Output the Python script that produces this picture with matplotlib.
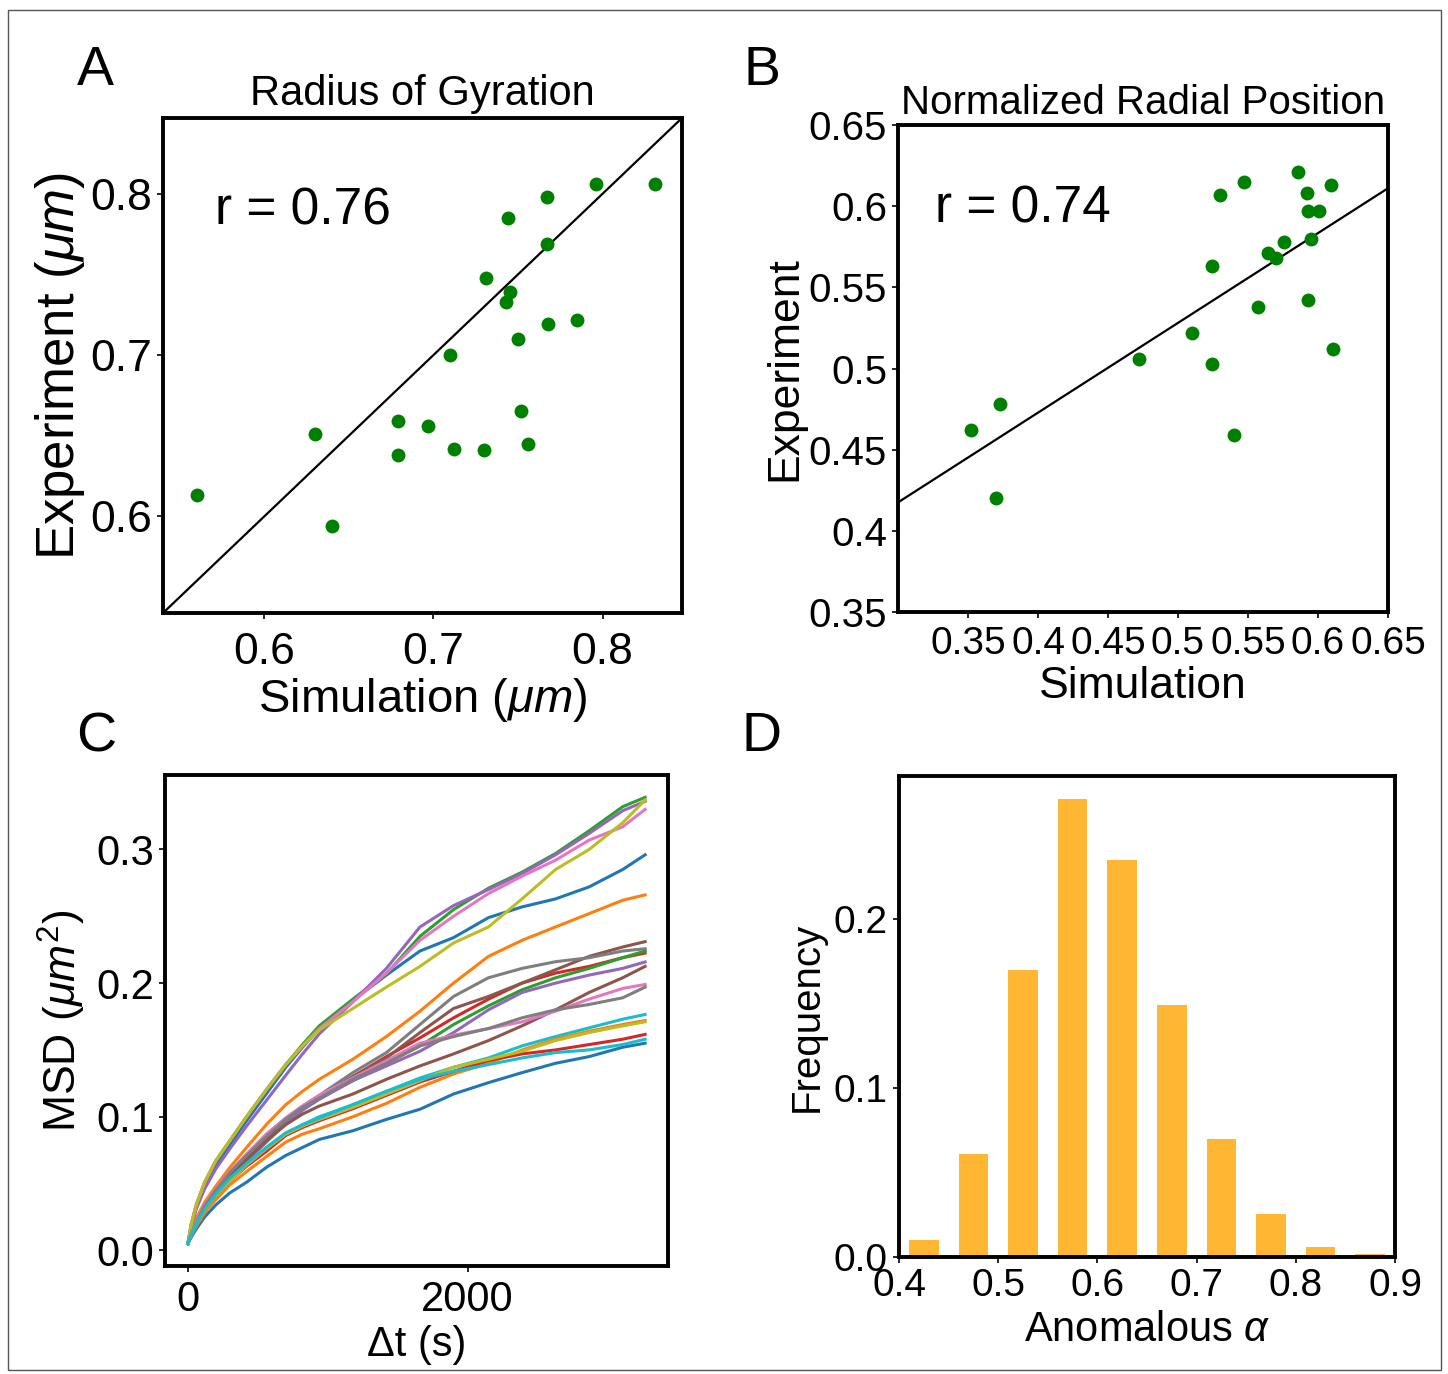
"""
Four-panel figure: simulation vs experiment comparisons (A, B),
MSD curves (C) and a histogram of anomalous exponents (D).
"""
import matplotlib
matplotlib.use("Agg")
import matplotlib.pyplot as plt
from matplotlib.patches import Rectangle
from matplotlib.ticker import FormatStrFormatter

plt.rcParams['font.family'] = ['Liberation Sans', 'DejaVu Sans']
plt.rcParams['mathtext.fontset'] = 'custom'
plt.rcParams['mathtext.rm'] = 'Liberation Sans'
plt.rcParams['mathtext.it'] = 'Liberation Sans:italic'

# --- Panel A: radius of gyration (um) ---
rg_sim = [0.560, 0.630, 0.640, 0.679, 0.679, 0.697, 0.710, 0.712, 0.730, 0.731, 0.744,
          0.745, 0.743, 0.750, 0.752, 0.756, 0.767, 0.767, 0.768, 0.785, 0.796, 0.831]
rg_exp = [0.613, 0.651, 0.594, 0.659, 0.638, 0.656, 0.700, 0.642, 0.641, 0.748, 0.785,
          0.739, 0.733, 0.710, 0.665, 0.645, 0.798, 0.769, 0.719, 0.722, 0.806, 0.806]
rg_r = 0.76

# --- Panel B: normalized radial position ---
rad_sim = [0.352, 0.373, 0.370, 0.472, 0.510, 0.524, 0.524, 0.530, 0.547, 0.540, 0.557,
           0.564, 0.570, 0.576, 0.586, 0.592, 0.593, 0.601, 0.595, 0.593, 0.609, 0.611]
rad_exp = [0.462, 0.478, 0.420, 0.506, 0.522, 0.503, 0.563, 0.607, 0.615, 0.459, 0.538,
           0.571, 0.568, 0.578, 0.621, 0.608, 0.597, 0.597, 0.580, 0.542, 0.613, 0.512]
rad_fit = (0.553, 0.2516)  # slope, intercept
rad_r = 0.74

# --- Panel C: MSD curves (um^2) vs lag time (s) ---
lag_t = [0, 25, 60, 120, 200, 300, 420, 560, 700, 820, 940, 1180, 1420, 1660,
         1900, 2150, 2390, 2630, 2870, 3110, 3270]
msd_curves = [
    # blue
    [0.005, 0.019, 0.032, 0.049, 0.064, 0.079, 0.097, 0.117, 0.137, 0.152, 0.166,
     0.187, 0.206, 0.224, 0.234, 0.249, 0.257, 0.263, 0.272, 0.285, 0.296],
    # orange
    [0.005, 0.014, 0.024, 0.036, 0.048, 0.062, 0.077, 0.094, 0.109, 0.119, 0.128,
     0.143, 0.160, 0.179, 0.200, 0.220, 0.232, 0.242, 0.252, 0.262, 0.266],
    # green
    [0.005, 0.020, 0.034, 0.051, 0.067, 0.082, 0.100, 0.120, 0.139, 0.154, 0.168,
     0.188, 0.207, 0.235, 0.255, 0.271, 0.283, 0.297, 0.314, 0.332, 0.339],
    # red
    [0.005, 0.012, 0.021, 0.032, 0.043, 0.055, 0.068, 0.083, 0.097, 0.107, 0.115,
     0.130, 0.145, 0.159, 0.174, 0.188, 0.200, 0.2075, 0.2125, 0.219, 0.2225],
    # purple
    [0.005, 0.018, 0.031, 0.046, 0.061, 0.076, 0.093, 0.112, 0.131, 0.147, 0.162,
     0.186, 0.211, 0.242, 0.258, 0.270, 0.282, 0.296, 0.312, 0.329, 0.336],
    # brown
    [0.005, 0.012, 0.021, 0.033, 0.045, 0.057, 0.070, 0.085, 0.098, 0.107, 0.114,
     0.130, 0.144, 0.163, 0.181, 0.190, 0.200, 0.210, 0.220, 0.227, 0.231],
    # pink
    [0.005, 0.020, 0.034, 0.051, 0.067, 0.082, 0.100, 0.120, 0.139, 0.153, 0.166,
     0.186, 0.2075, 0.232, 0.250, 0.267, 0.280, 0.292, 0.307, 0.317, 0.330],
    # gray
    [0.005, 0.012, 0.021, 0.033, 0.045, 0.058, 0.071, 0.086, 0.099, 0.108, 0.116,
     0.133, 0.148, 0.169, 0.190, 0.204, 0.211, 0.216, 0.219, 0.224, 0.2257],
    # olive
    [0.005, 0.020, 0.034, 0.051, 0.067, 0.082, 0.100, 0.120, 0.139, 0.153, 0.165,
     0.181, 0.197, 0.2125, 0.230, 0.242, 0.263, 0.285, 0.300, 0.320, 0.337],
    # cyan
    [0.005, 0.012, 0.020, 0.031, 0.042, 0.053, 0.064, 0.076, 0.087, 0.094, 0.100,
     0.109, 0.119, 0.129, 0.137, 0.144, 0.153, 0.160, 0.1665, 0.173, 0.1765],
    # blue
    [0.005, 0.010, 0.016, 0.025, 0.034, 0.043, 0.051, 0.062, 0.071, 0.077, 0.083,
     0.0895, 0.098, 0.1056, 0.117, 0.1255, 0.133, 0.140, 0.145, 0.152, 0.155],
    # orange
    [0.005, 0.011, 0.018, 0.028, 0.038, 0.049, 0.059, 0.070, 0.081, 0.087, 0.091,
     0.100, 0.110, 0.122, 0.132, 0.140, 0.150, 0.158, 0.164, 0.169, 0.172],
    # green
    [0.005, 0.012, 0.020, 0.031, 0.043, 0.055, 0.067, 0.081, 0.095, 0.105, 0.114,
     0.127, 0.140, 0.153, 0.169, 0.183, 0.195, 0.204, 0.211, 0.219, 0.224],
    # red
    [0.005, 0.012, 0.020, 0.030, 0.041, 0.052, 0.063, 0.074, 0.086, 0.092, 0.097,
     0.106, 0.116, 0.126, 0.134, 0.142, 0.147, 0.150, 0.154, 0.158, 0.1616],
    # purple
    [0.005, 0.012, 0.020, 0.031, 0.043, 0.055, 0.067, 0.081, 0.095, 0.105, 0.113,
     0.127, 0.138, 0.149, 0.163, 0.180, 0.193, 0.200, 0.206, 0.211, 0.2158],
    # brown
    [0.005, 0.012, 0.020, 0.031, 0.043, 0.056, 0.068, 0.082, 0.094, 0.102, 0.108,
     0.117, 0.128, 0.138, 0.147, 0.157, 0.168, 0.180, 0.193, 0.204, 0.2125],
    # pink
    [0.005, 0.013, 0.022, 0.034, 0.046, 0.059, 0.072, 0.087, 0.099, 0.108, 0.116,
     0.129, 0.142, 0.155, 0.161, 0.166, 0.171, 0.179, 0.188, 0.196, 0.199],
    # gray
    [0.005, 0.012, 0.021, 0.033, 0.045, 0.058, 0.071, 0.085, 0.098, 0.107, 0.114,
     0.128, 0.140, 0.153, 0.160, 0.166, 0.174, 0.180, 0.184, 0.189, 0.197],
    # olive
    [0.005, 0.012, 0.020, 0.030, 0.041, 0.052, 0.064, 0.076, 0.087, 0.093, 0.098,
     0.107, 0.117, 0.127, 0.137, 0.143, 0.149, 0.157, 0.163, 0.168, 0.171],
    # cyan
    [0.005, 0.012, 0.020, 0.031, 0.042, 0.054, 0.065, 0.077, 0.088, 0.094, 0.099,
     0.109, 0.119, 0.128, 0.134, 0.139, 0.144, 0.148, 0.150, 0.154, 0.158],
]

# --- Panel D: histogram of anomalous exponent ---
alpha_edges = [0.40, 0.45, 0.50, 0.55, 0.60, 0.65, 0.70, 0.75, 0.80, 0.85, 0.90]
alpha_freq = [0.0103, 0.0609, 0.1698, 0.2710, 0.2351, 0.1489, 0.0700, 0.0256, 0.0057, 0.0015]

W, H = 1448, 1374


def px_rect(left, top, right, bottom):
    """Axes rectangle in figure fraction from pixel box."""
    return [left / W, 1 - bottom / H, (right - left) / W, (bottom - top) / H]


def style_axes(ax, tick_size):
    for sp in ax.spines.values():
        sp.set_linewidth(2.8)
    ax.tick_params(direction='out', length=4, width=1.2, labelsize=tick_size, pad=4)


fig = plt.figure(figsize=(W / 100, H / 100), dpi=100)

# A
axA = fig.add_axes(px_rect(163, 118, 682, 613))
lims = (0.54, 0.847)
axA.plot(lims, lims, color='black', lw=1.6, zorder=1)
axA.scatter(rg_sim, rg_exp, s=100, color='green', linewidths=0, zorder=2)
axA.set_xlim(lims)
axA.set_ylim(lims)
axA.set_xticks([0.6, 0.7, 0.8])
axA.set_yticks([0.6, 0.7, 0.8])
style_axes(axA, 32)
axA.tick_params(axis='x', pad=10)
axA.set_title("Radius of Gyration", fontsize=30, pad=9)
axA.set_xlabel(r"Simulation ($\mu m$)", fontsize=34, labelpad=2)
axA.set_ylabel(r"Experiment ($\mu m$)", fontsize=38, labelpad=2)
axA.text(0.10, 0.784, f"r = {rg_r:.2f}", transform=axA.transAxes, fontsize=37)

# B
axB = fig.add_axes(px_rect(898, 125, 1388, 612))
xl = (0.30, 0.65)
axB.plot(xl, [rad_fit[0] * v + rad_fit[1] for v in xl], color='black', lw=1.6, zorder=1)
axB.scatter(rad_sim, rad_exp, s=100, color='green', linewidths=0, zorder=2)
axB.set_xlim(xl)
axB.set_ylim(0.35, 0.65)
axB.set_xticks([0.35, 0.40, 0.45, 0.50, 0.55, 0.60, 0.65])
axB.set_yticks([0.35, 0.40, 0.45, 0.50, 0.55, 0.60, 0.65])
axB.xaxis.set_major_formatter(FormatStrFormatter('%g'))
axB.yaxis.set_major_formatter(FormatStrFormatter('%g'))
style_axes(axB, 29)
axB.tick_params(axis='x', labelsize=28, pad=6)
axB.set_title("Normalized Radial Position", fontsize=29, pad=8)
axB.set_xlabel("Simulation", fontsize=32, labelpad=3)
axB.set_ylabel("Experiment", fontsize=32, labelpad=2)
axB.text(0.0755, 0.80, f"r = {rad_r:.2f}", transform=axB.transAxes, fontsize=37)

# C
axC = fig.add_axes(px_rect(165, 775, 668, 1266))
for curve in msd_curves:
    axC.plot(lag_t, curve, lw=2.2)
axC.set_xticks([0, 2000])
axC.set_yticks([0.0, 0.1, 0.2, 0.3])
axC.yaxis.set_major_formatter(FormatStrFormatter('%.1f'))
style_axes(axC, 30)
axC.tick_params(axis='x', pad=6)
axC.set_xlabel(r"Δt (s)", fontsize=30, labelpad=4)
axC.set_ylabel(r"MSD ($\mu m^2$)", fontsize=32, labelpad=6)

# D
axD = fig.add_axes(px_rect(899, 776, 1395, 1257))
centers = [(a + b) / 2 for a, b in zip(alpha_edges[:-1], alpha_edges[1:])]
axD.bar(centers, alpha_freq, width=0.03, color='orange', alpha=0.8)
axD.set_xlim(0.4, 0.9)
axD.set_ylim(0, max(alpha_freq) * 1.05)
axD.set_xticks([0.4, 0.5, 0.6, 0.7, 0.8, 0.9])
axD.set_yticks([0.0, 0.1, 0.2])
style_axes(axD, 28)
axD.set_xlabel(r"Anomalous $\alpha$", fontsize=30, labelpad=4)
axD.set_ylabel("Frequency", fontsize=29, labelpad=6)

# panel letters
for letter, (x, y) in {'A': (95, 85), 'B': (762, 85), 'C': (96, 751), 'D': (762, 751)}.items():
    fig.text(x / W, 1 - y / H, letter, fontsize=40, ha='center', va='baseline')

# thin outer frame
fig.add_artist(Rectangle((8 / W, 1 - 1370 / H), (1441 - 8) / W, (1370 - 10) / H,
                         transform=fig.transFigure, fill=False, edgecolor='#555555', lw=1))

fig.savefig("out.png", dpi=100)
